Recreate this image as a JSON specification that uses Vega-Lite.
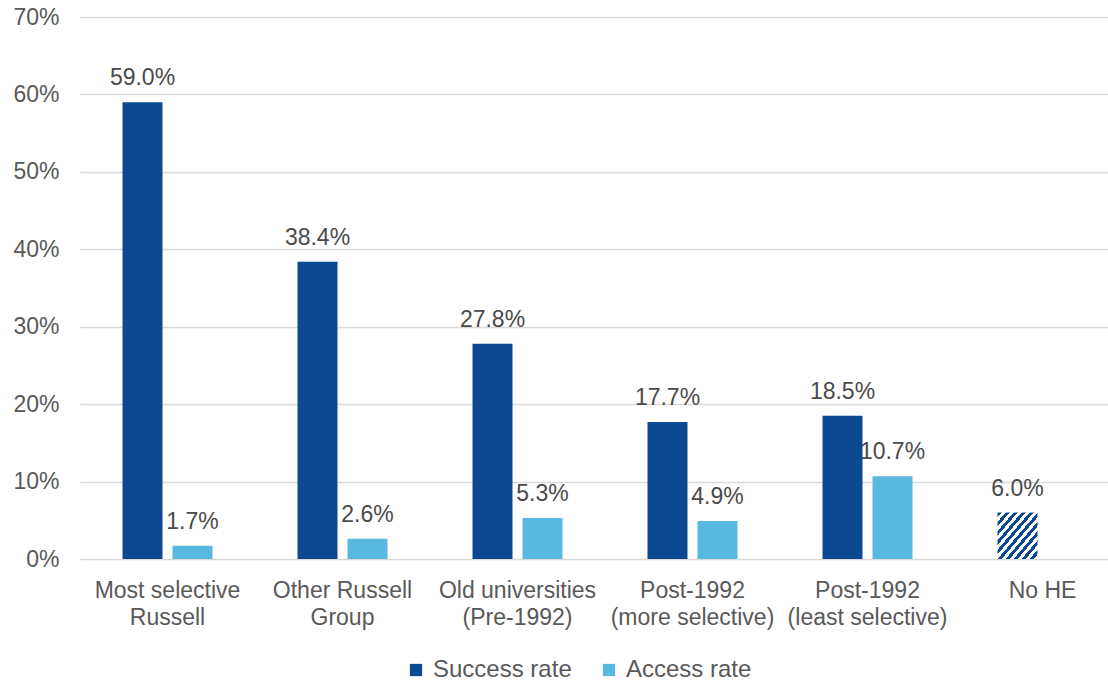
{
  "$schema": "https://vega.github.io/schema/vega-lite/v6.json",
  "width": 1015,
  "height": 542,
  "autosize": "none",
  "padding": {"left": 80, "top": 17, "right": 13, "bottom": 127},
  "background": "white",
  "config": {
    "view": {"stroke": null},
    "font": "Liberation Sans",
    "axis": {"labelFont": "Liberation Sans", "labelColor": "#595959", "labelFontSize": 23},
    "legend": {"labelFont": "Liberation Sans"}
  },
  "data": {
    "values": [
      {"cat": "Most selective|Russell", "series": "Success rate", "value": 0.590},
      {"cat": "Most selective|Russell", "series": "Access rate", "value": 0.017},
      {"cat": "Other Russell|Group", "series": "Success rate", "value": 0.384},
      {"cat": "Other Russell|Group", "series": "Access rate", "value": 0.026},
      {"cat": "Old universities|(Pre-1992)", "series": "Success rate", "value": 0.278},
      {"cat": "Old universities|(Pre-1992)", "series": "Access rate", "value": 0.053},
      {"cat": "Post-1992|(more selective)", "series": "Success rate", "value": 0.177},
      {"cat": "Post-1992|(more selective)", "series": "Access rate", "value": 0.049},
      {"cat": "Post-1992|(least selective)", "series": "Success rate", "value": 0.185},
      {"cat": "Post-1992|(least selective)", "series": "Access rate", "value": 0.107},
      {"cat": "No HE", "series": "Success rate", "value": 0.060}
    ]
  },
  "encoding": {
    "x": {
      "field": "cat",
      "type": "nominal",
      "scale": {
        "domain": ["Most selective|Russell", "Other Russell|Group", "Old universities|(Pre-1992)", "Post-1992|(more selective)", "Post-1992|(least selective)", "No HE"],
        "range": [0, 1050],
        "paddingInner": 0,
        "paddingOuter": 0
      },
      "axis": {
        "title": null,
        "labelAngle": 0,
        "domain": false,
        "ticks": false,
        "grid": false,
        "labelPadding": 20,
        "labelLineHeight": 27,
        "labelExpr": "split(datum.label, '|')"
      }
    },
    "xOffset": {
      "field": "series",
      "type": "nominal",
      "scale": {"domain": ["Success rate", "Access rate"], "range": [42.5, 132.5], "paddingInner": 0.2, "paddingOuter": 0}
    },
    "y": {
      "field": "value",
      "type": "quantitative",
      "scale": {"domain": [0, 0.7], "nice": false},
      "axis": {
        "title": null,
        "format": ".0%",
        "values": [0, 0.1, 0.2, 0.3, 0.4, 0.5, 0.6, 0.7],
        "domain": false,
        "ticks": false,
        "labelPadding": 21,
        "gridColor": "#d9d9d9",
        "gridWidth": 1.3
      }
    }
  },
  "layer": [
    {
      "transform": [{"filter": "datum.cat !== 'No HE'"}],
      "mark": {"type": "bar"},
      "encoding": {
        "color": {
          "field": "series",
          "type": "nominal",
          "scale": {"domain": ["Success rate", "Access rate"], "range": ["#0B4A92", "#59B8DF"]},
          "legend": {
            "title": null,
            "orient": "none",
            "legendX": 324,
            "legendY": 641,
            "direction": "horizontal",
            "symbolType": "square",
            "symbolSize": 150,
            "symbolStrokeWidth": 0,
            "labelFontSize": 24,
            "labelColor": "#595959",
            "labelOffset": 5,
            "columnPadding": 25
          }
        }
      }
    },
    {
      "transform": [{"filter": "datum.cat === 'No HE'"}],
      "mark": {
        "type": "bar",
        "fill": {
          "gradient": "linear",
          "x1": 0, "y1": 0, "x2": 1, "y2": 1,
          "stops": [
            {"offset": 0.0, "color": "#0B4A92"}, {"offset": 0.05, "color": "#0B4A92"}, {"offset": 0.05, "color": "#ffffff"}, {"offset": 0.1, "color": "#ffffff"},
            {"offset": 0.1, "color": "#0B4A92"}, {"offset": 0.15, "color": "#0B4A92"}, {"offset": 0.15, "color": "#ffffff"}, {"offset": 0.2, "color": "#ffffff"},
            {"offset": 0.2, "color": "#0B4A92"}, {"offset": 0.25, "color": "#0B4A92"}, {"offset": 0.25, "color": "#ffffff"}, {"offset": 0.3, "color": "#ffffff"},
            {"offset": 0.3, "color": "#0B4A92"}, {"offset": 0.35, "color": "#0B4A92"}, {"offset": 0.35, "color": "#ffffff"}, {"offset": 0.4, "color": "#ffffff"},
            {"offset": 0.4, "color": "#0B4A92"}, {"offset": 0.45, "color": "#0B4A92"}, {"offset": 0.45, "color": "#ffffff"}, {"offset": 0.5, "color": "#ffffff"},
            {"offset": 0.5, "color": "#0B4A92"}, {"offset": 0.55, "color": "#0B4A92"}, {"offset": 0.55, "color": "#ffffff"}, {"offset": 0.6, "color": "#ffffff"},
            {"offset": 0.6, "color": "#0B4A92"}, {"offset": 0.65, "color": "#0B4A92"}, {"offset": 0.65, "color": "#ffffff"}, {"offset": 0.7, "color": "#ffffff"},
            {"offset": 0.7, "color": "#0B4A92"}, {"offset": 0.75, "color": "#0B4A92"}, {"offset": 0.75, "color": "#ffffff"}, {"offset": 0.8, "color": "#ffffff"},
            {"offset": 0.8, "color": "#0B4A92"}, {"offset": 0.85, "color": "#0B4A92"}, {"offset": 0.85, "color": "#ffffff"}, {"offset": 0.9, "color": "#ffffff"},
            {"offset": 0.9, "color": "#0B4A92"}, {"offset": 0.95, "color": "#0B4A92"}, {"offset": 0.95, "color": "#ffffff"}, {"offset": 1.0, "color": "#ffffff"}
          ]
        }
      }
    },
    {
      "mark": {"type": "text", "baseline": "alphabetic", "dy": -17, "fontSize": 23, "color": "#4a4a4a", "font": "Liberation Sans"},
      "encoding": {
        "text": {"field": "value", "type": "quantitative", "format": ".1%"}
      }
    }
  ]
}
